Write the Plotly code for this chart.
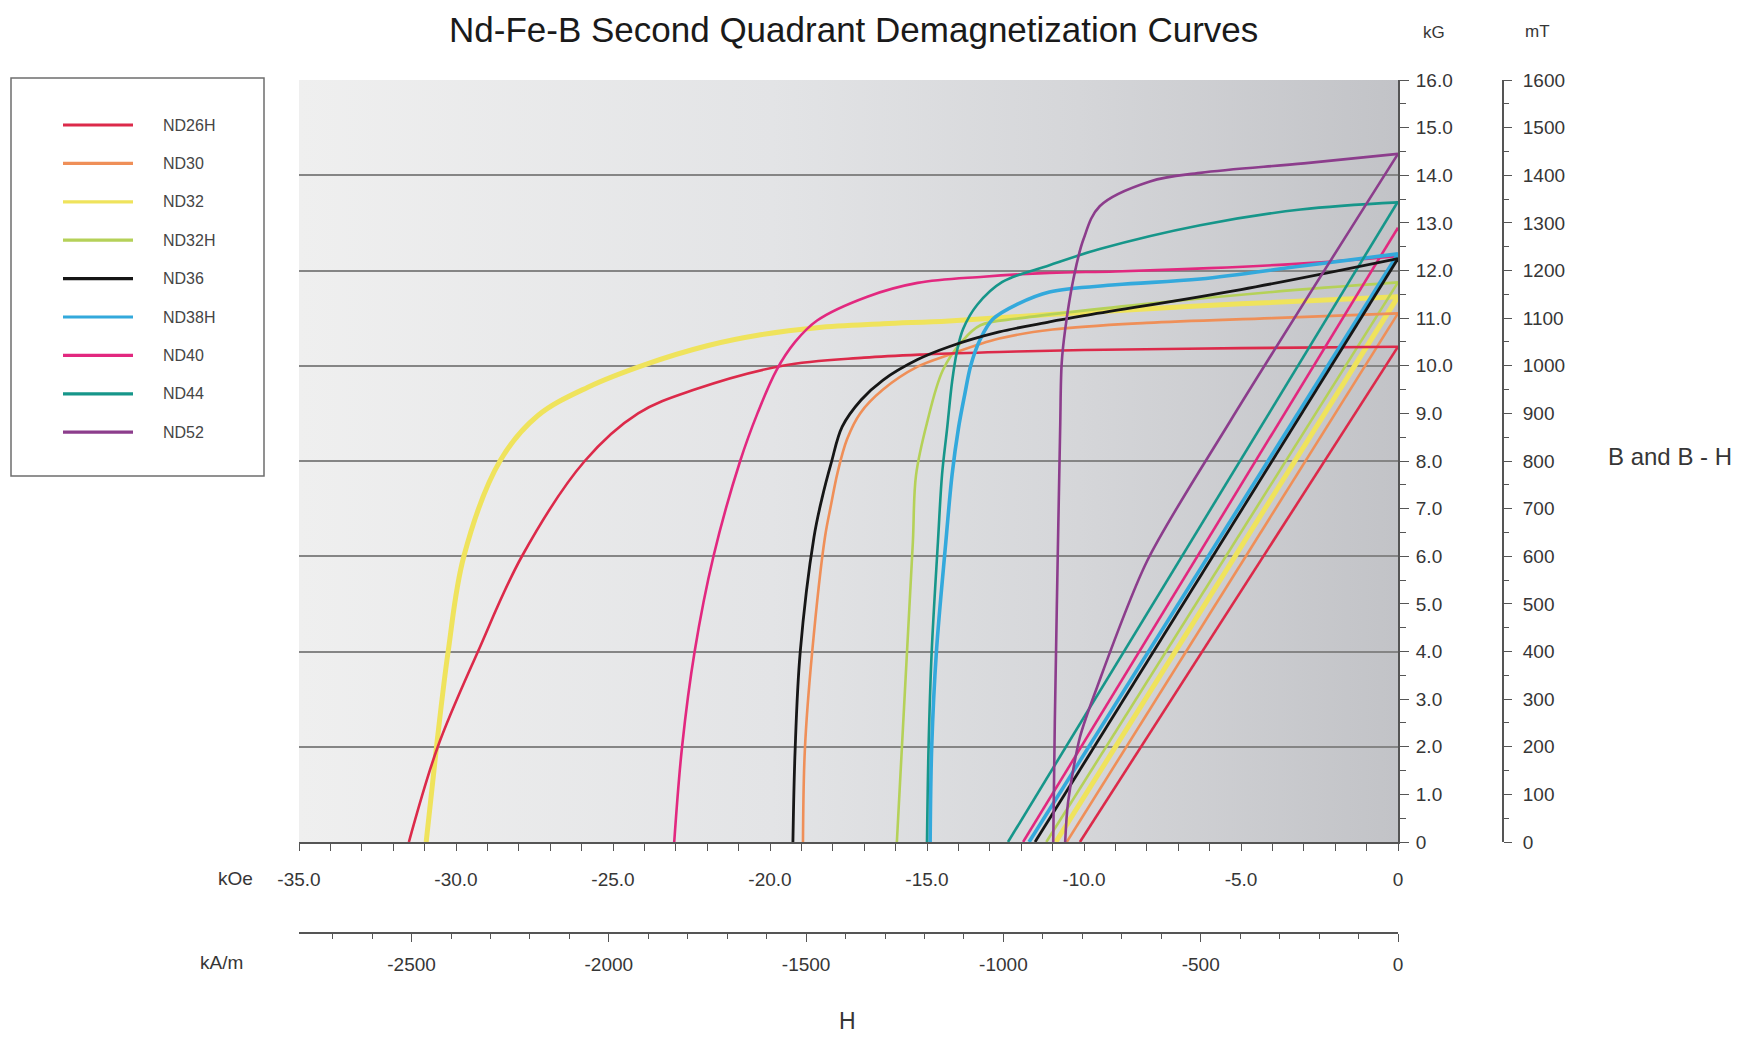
import base64
import plotly.graph_objects as go

# ---------------------------------------------------------------------------
# Data: second-quadrant demagnetization curves, H in kOe, B / (B-H) in kG
# "_hi/_ji" = intrinsic curve (B-H), "_hn/_bn" = normal curve (B)
# ---------------------------------------------------------------------------
GRADES = ["ND26H", "ND30", "ND32", "ND32H", "ND36", "ND38H", "ND40", "ND44", "ND52"]

nd26h_hi = [0, -5, -10, -12.7, -15, -17.0, -19.6, -22.4, -24.2, -25.9, -27.9, -29.3, -30.58, -31.5]
nd26h_ji = [10.4, 10.37, 10.33, 10.29, 10.24, 10.17, 10.0, 9.5, 9.0, 8.0, 6.0, 4.0, 2.0, 0]
nd26h_hn = [0, -10.13]
nd26h_bn = [10.4, 0]

nd30_hi = [0, -4, -8, -11, -12.7, -14.3, -15.3, -16.4, -17.13, -17.55, -17.85, -18.05, -18.25, -18.66, -18.89, -18.95]
nd30_ji = [11.1, 11.0, 10.9, 10.76, 10.57, 10.23, 9.98, 9.5, 9.0, 8.45, 7.75, 7.1, 6.4, 3.97, 1.93, 0]
nd30_hn = [0, -10.55]
nd30_bn = [11.1, 0]

nd32_hi = [0, -5, -10, -14.3, -16.4, -18.5, -20.3, -22.0, -24.0, -25.8, -27.4, -28.6, -29.75, -30.25, -30.62, -30.95]
nd32_ji = [11.45, 11.3, 11.12, 10.94, 10.88, 10.8, 10.65, 10.42, 10.02, 9.55, 8.95, 8.0, 6.0, 4.0, 2.0, 0]
nd32_hn = [0, -10.9]
nd32_bn = [11.45, 0]

nd32h_hi = [0, -4, -8, -12, -13.3, -13.9, -14.5, -15.0, -15.35, -15.45, -15.64, -15.96]
nd32h_ji = [11.75, 11.55, 11.3, 11.0, 10.85, 10.5, 9.9, 8.8, 7.7, 6.3, 3.95, 0]
nd32h_hn = [0, -11.2]
nd32h_bn = [11.75, 0]

nd36_hi = [0, -5, -10, -11.1, -12.7, -14.3, -15.3, -16.4, -17.1, -17.7, -18.05, -18.35, -18.6, -19.04, -19.2, -19.27]
nd36_ji = [12.25, 11.6, 11.05, 10.92, 10.71, 10.4, 10.13, 9.7, 9.28, 8.72, 7.96, 7.2, 6.4, 3.97, 1.93, 0]
nd36_hn = [0, -11.56]
nd36_bn = [12.25, 0]

nd38h_hi = [0, -3, -6.3, -9, -11.1, -12.1, -12.9, -13.3, -13.6, -13.8, -14.0, -14.2, -14.4, -14.7, -14.85, -14.9]
nd38h_ji = [12.35, 12.1, 11.82, 11.7, 11.55, 11.3, 10.98, 10.56, 10.02, 9.39, 8.68, 7.72, 6.3, 4.0, 2.0, 0]
nd38h_hn = [0, -11.75]
nd38h_bn = [12.35, 0]

nd40_hi = [0, -3, -6, -9, -11.1, -13.2, -15.3, -16.9, -18.5, -19.2, -19.8, -20.4, -20.95, -21.8, -22.4, -22.8, -23.05]
nd40_ji = [12.3, 12.15, 12.05, 11.98, 11.95, 11.87, 11.74, 11.45, 10.95, 10.5, 9.9, 9.0, 8.0, 6.0, 4.0, 2.0, 0]
nd40_hn = [0, -11.94]
nd40_bn = [12.9, 0]

nd44_hi = [0, -3.1, -6.3, -9.5, -11.1, -12.6, -13.4, -13.85, -14.05, -14.2, -14.36, -14.52, -14.65, -14.85, -14.95, -15.0]
nd44_ji = [13.43, 13.28, 12.95, 12.45, 12.11, 11.76, 11.28, 10.77, 10.29, 9.67, 8.68, 7.72, 6.32, 4.0, 2.0, 0]
nd44_hn = [0, -12.42]
nd44_bn = [13.45, 0]

nd52_hi = [0, -3, -6.3, -7.9, -9.5, -10.02, -10.34, -10.6, -10.71, -10.76, -10.85, -10.93, -10.98]
nd52_ji = [14.45, 14.25, 14.05, 13.87, 13.35, 12.65, 11.81, 10.76, 10.06, 8.66, 5.5, 2.5, 0]
nd52_hn = [0, -5.35, -7.99, -9.59, -10.13, -10.51, -10.6]
nd52_bn = [14.45, 8.83, 5.9, 3.24, 2.2, 0.82, 0]

# Axis tick values and labels
KOE_TICKS = [-35, -30, -25, -20, -15, -10, -5, 0]
KOE_LABELS = ["-35.0", "-30.0", "-25.0", "-20.0", "-15.0", "-10.0", "-5.0", "0"]
KAM_TICKS = [-2500, -2000, -1500, -1000, -500, 0]
KAM_LABELS = ["-2500", "-2000", "-1500", "-1000", "-500", "0"]
KG_TICKS = [0, 1, 2, 3, 4, 5, 6, 7, 8, 9, 10, 11, 12, 13, 14, 15, 16]
KG_LABELS = ["0", "1.0", "2.0", "3.0", "4.0", "5.0", "6.0", "7.0", "8.0", "9.0", "10.0",
             "11.0", "12.0", "13.0", "14.0", "15.0", "16.0"]
MT_TICKS = [0, 100, 200, 300, 400, 500, 600, 700, 800, 900, 1000, 1100, 1200, 1300, 1400, 1500, 1600]
MT_LABELS = ["0", "100", "200", "300", "400", "500", "600", "700", "800", "900", "1000",
             "1100", "1200", "1300", "1400", "1500", "1600"]
GRID_KG = [2, 4, 6, 8, 10, 12, 14]

H_MIN_KOE = -35.0
KOE_TO_KAM = 79.5775   # 1 kOe = 79.5775 kA/m
KG_TO_MT = 100.0       # 1 kG = 100 mT
B_MAX_KG = 16.0

# ---------------------------------------------------------------------------
# Styling
# ---------------------------------------------------------------------------
COLORS = {
    "ND26H": "#dc2a4a",
    "ND30": "#ef8f58",
    "ND32": "#efe35c",
    "ND32H": "#b5d158",
    "ND36": "#161616",
    "ND38H": "#33a9dc",
    "ND40": "#e2287f",
    "ND44": "#16968a",
    "ND52": "#8c3d8c",
}
WIDTHS = {
    "ND26H": 2.6, "ND30": 2.6, "ND32": 5.0, "ND32H": 2.6, "ND36": 2.8,
    "ND38H": 3.6, "ND40": 2.6, "ND44": 2.6, "ND52": 2.6,
}
CURVES = {
    "ND26H": (nd26h_hi, nd26h_ji, nd26h_hn, nd26h_bn),
    "ND30": (nd30_hi, nd30_ji, nd30_hn, nd30_bn),
    "ND32": (nd32_hi, nd32_ji, nd32_hn, nd32_bn),
    "ND32H": (nd32h_hi, nd32h_ji, nd32h_hn, nd32h_bn),
    "ND36": (nd36_hi, nd36_ji, nd36_hn, nd36_bn),
    "ND38H": (nd38h_hi, nd38h_ji, nd38h_hn, nd38h_bn),
    "ND40": (nd40_hi, nd40_ji, nd40_hn, nd40_bn),
    "ND44": (nd44_hi, nd44_ji, nd44_hn, nd44_bn),
    "ND52": (nd52_hi, nd52_ji, nd52_hn, nd52_bn),
}
DRAW_ORDER = ["ND32", "ND32H", "ND30", "ND26H", "ND40", "ND38H", "ND44", "ND36", "ND52"]

W, H = 1737, 1037
FONT = "Liberation Sans, Arial, sans-serif"
AXIS_GRAY = "#555555"
TEXT_GRAY = "#363636"


def px_x(p):
    return p / W


def px_y(p):
    return 1 - p / H


X_DOM = [px_x(299), px_x(1398)]
Y_DOM = [px_y(842), px_y(80)]

fig = go.Figure()

for g in DRAW_ORDER:
    hi, ji, hn, bn = CURVES[g]
    common = dict(mode="lines", hoverinfo="skip", showlegend=False)
    fig.add_trace(go.Scatter(x=hi, y=ji, line=dict(color=COLORS[g], width=WIDTHS[g], shape="spline", smoothing=1.0), **common))
    fig.add_trace(go.Scatter(x=hn, y=bn, line=dict(color=COLORS[g], width=WIDTHS[g], shape="spline", smoothing=0.8), **common))

# placeholders so the secondary axes get drawn
fig.add_trace(go.Scatter(x=[None], y=[None], yaxis="y2", showlegend=False, hoverinfo="skip"))
fig.add_trace(go.Scatter(x=[None], y=[None], yaxis="y3", showlegend=False, hoverinfo="skip"))
fig.add_trace(go.Scatter(x=[None], y=[None], xaxis="x2", showlegend=False, hoverinfo="skip"))

# horizontal gradient for the plotting area
svg = (
    '<svg xmlns="http://www.w3.org/2000/svg" viewBox="0 0 100 10" preserveAspectRatio="none" '
    'width="100" height="10"><defs><linearGradient id="g" x1="0" y1="0" x2="1" y2="0">'
    '<stop offset="0" stop-color="#efefef"/><stop offset="0.43" stop-color="#e3e4e6"/>'
    '<stop offset="0.71" stop-color="#d5d6d9"/><stop offset="1" stop-color="#c2c3c7"/>'
    '</linearGradient></defs><rect x="0" y="0" width="100" height="10" fill="url(#g)"/></svg>'
)
bg_src = "data:image/svg+xml;base64," + base64.b64encode(svg.encode()).decode()

tick_font = dict(family=FONT, size=19, color=TEXT_GRAY)
common_axis = dict(automargin=False, fixedrange=True, zeroline=False, showgrid=False)

fig.update_layout(
    width=W, height=H,
    margin=dict(l=0, r=0, t=0, b=0, pad=0),
    paper_bgcolor="white",
    plot_bgcolor="#dadbdd",
    showlegend=False,
    images=[dict(source=bg_src, xref="x", yref="y", x=H_MIN_KOE, y=B_MAX_KG,
                 sizex=-H_MIN_KOE, sizey=B_MAX_KG, sizing="stretch", layer="below")],
    xaxis=dict(
        domain=X_DOM, range=[H_MIN_KOE, 0], anchor="y",
        tickmode="array", tickvals=KOE_TICKS, ticktext=KOE_LABELS,
        ticks="outside", ticklen=7, tickwidth=1.3, tickcolor=AXIS_GRAY,
        minor=dict(tickmode="linear", tick0=0, dtick=1, ticks="outside", ticklen=7, tickwidth=1.3, tickcolor=AXIS_GRAY),
        showline=True, linecolor=AXIS_GRAY, linewidth=2,
        tickfont=tick_font, ticklabelstandoff=12, **common_axis,
    ),
    xaxis2=dict(
        domain=X_DOM, range=[H_MIN_KOE * KOE_TO_KAM, 0], overlaying="x", anchor="free",
        position=px_y(933), side="bottom",
        tickmode="array", tickvals=KAM_TICKS, ticktext=KAM_LABELS,
        ticks="outside", ticklen=8, tickwidth=1.3, tickcolor=AXIS_GRAY,
        minor=dict(tickmode="linear", tick0=0, dtick=100, ticks="outside", ticklen=5, tickwidth=1.3, tickcolor=AXIS_GRAY),
        showline=True, linecolor=AXIS_GRAY, linewidth=2,
        tickfont=tick_font, ticklabelstandoff=6, **common_axis,
    ),
    yaxis=dict(
        domain=Y_DOM, range=[0, B_MAX_KG], anchor="x",
        tickmode="array", tickvals=GRID_KG, showticklabels=False, ticks="",
        showline=False, automargin=False, fixedrange=True, zeroline=False,
        showgrid=True, gridcolor="#858585", gridwidth=1.5,
    ),
    yaxis2=dict(
        domain=Y_DOM, range=[0, B_MAX_KG], overlaying="y", anchor="x", side="right",
        tickmode="array", tickvals=KG_TICKS, ticktext=KG_LABELS,
        ticks="outside", ticklen=9, tickwidth=1.3, tickcolor=AXIS_GRAY,
        minor=dict(tickmode="linear", tick0=0, dtick=0.5, ticks="outside", ticklen=6, tickwidth=1.3, tickcolor=AXIS_GRAY),
        showline=True, linecolor=AXIS_GRAY, linewidth=2,
        tickfont=tick_font, ticklabelstandoff=3, **common_axis,
    ),
    yaxis3=dict(
        domain=Y_DOM, range=[0, B_MAX_KG * KG_TO_MT], overlaying="y", anchor="free",
        position=px_x(1503), side="right",
        tickmode="array", tickvals=MT_TICKS, ticktext=MT_LABELS,
        ticks="outside", ticklen=8, tickwidth=1.3, tickcolor=AXIS_GRAY,
        minor=dict(tickmode="linear", tick0=0, dtick=50, ticks="outside", ticklen=5, tickwidth=1.3, tickcolor=AXIS_GRAY),
        showline=True, linecolor=AXIS_GRAY, linewidth=2,
        tickfont=tick_font, ticklabelstandoff=7, **common_axis,
    ),
)

# ---------------------------------------------------------------------------
# Texts
# ---------------------------------------------------------------------------
def label(text, x, y, size, color=TEXT_GRAY, xanchor="center"):
    fig.add_annotation(text=text, x=px_x(x), y=px_y(y), xref="paper", yref="paper",
                       xanchor=xanchor, yanchor="middle", showarrow=False,
                       font=dict(family=FONT, size=size, color=color))


label("Nd-Fe-B Second Quadrant Demagnetization Curves", 853, 29, 35, color="#1a1a1a")
label("kOe", 235, 878, 19)
label("kA/m", 222, 962, 19)
label("H", 847, 1021, 23)
label("kG", 1434, 33, 17)
label("mT", 1537, 31, 17)
label("B and B - H", 1670, 457, 24)

# ---------------------------------------------------------------------------
# Legend (framed box with line samples)
# ---------------------------------------------------------------------------
fig.add_shape(type="rect", xref="paper", yref="paper",
              x0=px_x(11), x1=px_x(264), y0=px_y(476), y1=px_y(78),
              line=dict(color="#6e6e6e", width=1.5), fillcolor="white", layer="above")
row0, row_step = 125, 38.4
for i, g in enumerate(GRADES):
    yy = row0 + i * row_step
    fig.add_shape(type="line", xref="paper", yref="paper",
                  x0=px_x(63), x1=px_x(133), y0=px_y(yy), y1=px_y(yy),
                  line=dict(color=COLORS[g], width=3.2), layer="above")
    label(g, 161, yy, 16, xanchor="left", color="#454545")

fig.write_html("out.html")
